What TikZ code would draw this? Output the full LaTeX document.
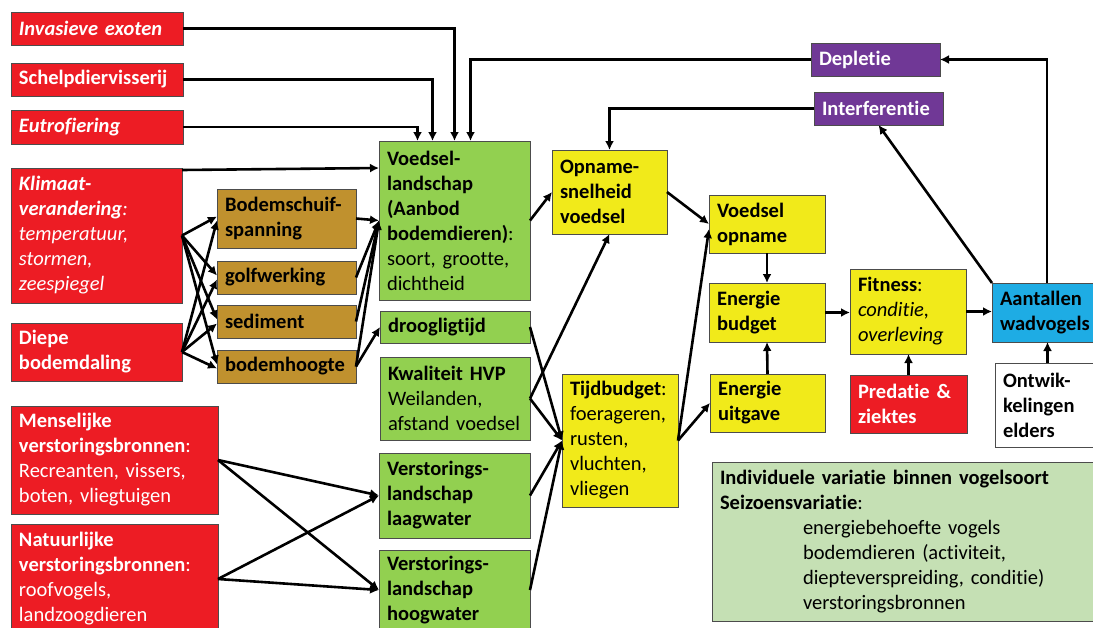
\documentclass[tikz,border=0pt]{standalone}
\usepackage{fontspec}
\setmainfont{Carlito}[Ligatures=NoCommon, WordSpace=0.8]
\usetikzlibrary{arrows.meta}
\hyphenpenalty=10000
\exhyphenpenalty=10000

\definecolor{rood}{RGB}{237,28,36}
\definecolor{bruin}{RGB}{192,145,46}
\definecolor{groen}{RGB}{146,208,80}
\definecolor{geel}{RGB}{241,234,26}
\definecolor{paars}{RGB}{112,56,150}
\definecolor{blauw}{RGB}{30,172,228}
\definecolor{lichtgroen}{RGB}{197,224,180}

\tikzset{
  blok/.style={draw=black!70, line width=0.8pt, anchor=north west, align=left,
    inner xsep=8pt, inner ysep=0pt, outer sep=0pt,
    font=\fontsize{20.5}{25}\selectfont\bfseries},
  drukker/.style={blok, fill=rood, text=white},
  bodem/.style={blok, fill=bruin},
  landschap/.style={blok, fill=groen},
  vogel/.style={blok, fill=geel},
  terug/.style={blok, fill=paars, text=white},
  pijl/.style={->, >={Latex[length=9pt,width=9pt]}, line width=2.6pt},
}

\begin{document}
\begin{tikzpicture}[x=1pt,y=-1pt]
\useasboundingbox (0,0) rectangle (1093,627);
\clip (0,0) rectangle (1093,627);

% drukfactoren
\node[drukker, text width=156, minimum height=33] (inv) at (11,12) {\itshape Invasieve exoten};
\node[drukker, text width=156, minimum height=33] (sch) at (11,63) {Schelpdiervisserij};
\node[drukker, text width=156, minimum height=34] (eut) at (11,110) {\itshape Eutrofiering};
\node[drukker, text width=155, minimum height=135] (kli) at (11,168) {\itshape Klimaat-\\verandering\mdseries:\\temperatuur,\\stormen,\\zeespiegel};
\node[drukker, text width=155, minimum height=58] (die) at (11,323) {Diepe\\bodemdaling};
\node[drukker, text width=191, minimum height=108] (men) at (11,406) {Menselijke\\verstoringsbronnen\mdseries:\\Recreanten, vissers,\\boten, vliegtuigen};
\node[drukker, text width=191, minimum height=110] (nat) at (11,524) {Natuurlijke\\verstoringsbronnen\mdseries:\\roofvogels,\\landzoogdieren};

% abiotiek
\node[bodem, text width=123, minimum height=59] (bsp) at (217,189) {Bodemschuif-\\spanning};
\node[bodem, text width=123, minimum height=33] (gol) at (217,261) {golfwerking};
\node[bodem, text width=123, minimum height=33] (sed) at (217,305) {sediment};
\node[bodem, text width=123, minimum height=33] (bho) at (217,350) {bodemhoogte};

% landschappen
\node[landschap, text width=135, minimum height=159] (vl) at (379,141) {Voedsel-\\landschap\\(Aanbod\\bodemdieren)\mdseries:\\soort, grootte,\\dichtheid};
\node[landschap, text width=134, minimum height=32] (dro) at (380,311) {droogligtijd};
\node[landschap, text width=134, minimum height=83] (kwa) at (380,357) {Kwaliteit HVP\\\mdseries Weilanden,\\afstand voedsel};
\node[landschap, text width=135, minimum height=85] (vlw) at (379,453) {Verstorings-\\landschap\\laagwater};
\node[landschap, text width=135, minimum height=80] (vhw) at (379,550) {Verstorings-\\landschap\\hoogwater};

% vogels
\node[vogel, text width=99, minimum height=84] (ops) at (552,150) {Opname-\\snelheid\\voedsel};
\node[vogel, text width=100, minimum height=133] (tij) at (562,374) {Tijdbudget\mdseries:\\foerageren,\\rusten,\\vluchten,\\vliegen};
\node[vogel, text width=100, minimum height=58] (vop) at (709,195) {Voedsel\\opname};
\node[vogel, text width=100, minimum height=59] (ebu) at (709,283) {Energie\\budget};
\node[vogel, text width=99, minimum height=58] (eui) at (710,374) {Energie\\uitgave};
\node[vogel, text width=100, minimum height=85] (fit) at (850,269) {Fitness\mdseries:\\\itshape conditie,\\overleving};
\node[blok, fill=blauw, text width=94, minimum height=59] (aan) at (992,283) {Aantallen\\wadvogels};
\node[drukker, text width=101, minimum height=58] (pre) at (850,375) {Predatie \&\\ziektes};
\node[blok, fill=white, text width=89, minimum height=84] (ont) at (995,363) {Ontwik-\\kelingen\\elders};
\node[terug, text width=113, minimum height=33] (dep) at (811,43) {Depletie};
\node[terug, text width=113, minimum height=33] (int) at (814,92) {Interferentie};
\node[blok, fill=lichtgroen, text width=374, minimum height=159] (ind) at (712,462) {Individuele variatie binnen vogelsoort\\Seizoensvariatie\mdseries:\\\hspace*{83pt}energiebehoefte vogels\\\hspace*{83pt}bodemdieren (activiteit,\\\hspace*{83pt}diepteverspreiding, conditie)\\\hspace*{83pt}verstoringsbronnen};

% pijlen
\draw[pijl] (inv.east) -| (vl.north);
\draw[pijl] (sch.east) -| ([xshift=-22pt]vl.north);
\draw[pijl] (eut.east) -| ([xshift=-37pt]vl.north);
\draw[pijl] (dep.west) -| ([xshift=16pt]vl.north);
\draw[pijl] ([yshift=-2pt]kli.north east) -- ([yshift=-27pt]vl.north west);
\foreach \b in {bsp,gol,sed,bho} {
  \draw[pijl] (kli.east) -- ([yshift=2pt]\b.west);
  \draw[pijl] (die.east) -- ([yshift=-2pt]\b.west);
  \draw[pijl] (\b.east) -- (vl.west);
}
\draw[pijl] (bho.east) -- (dro.west);
\draw[pijl] (vl.east) -- (ops.west);
\draw[pijl] (kwa.east) -- (ops.south);
\foreach \b in {dro,kwa,vlw,vhw}
  \draw[pijl] (\b.east) -- (tij.west);
\foreach \b in {men,nat} {
  \draw[pijl] (\b.east) -- (vlw.west);
  \draw[pijl] (\b.east) -- (vhw.west);
}
\draw[pijl] (ops.east) -- (vop.west);
\draw[pijl] (tij.east) -- ([yshift=-5pt]vop.west);
\draw[pijl] (tij.east) -- (eui.west);
\draw[pijl] (vop.south) -- (ebu.north);
\draw[pijl] (eui.north) -- (ebu.south);
\draw[pijl] (ebu.east) -- (ebu.east -| fit.west);
\draw[pijl] (fit.east) -- (fit.east -| aan.west);
\draw[pijl] (pre.north) -- (pre.north |- fit.south);
\draw[pijl] (ont.north) -- (ont.north |- aan.south);
\draw[pijl] (aan.north west) -- (int.south);
\draw[pijl] (aan.north) |- (dep.east);
\draw[pijl] (int.west) -| (ops.north);
\end{tikzpicture}
\end{document}
